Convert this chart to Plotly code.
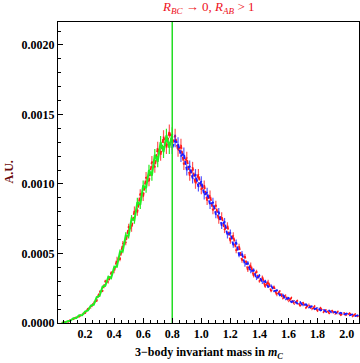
import numpy as np
import plotly.graph_objects as go

# bin centres (step 0.02) and histogram heights in units of 1e-4
x_red = np.round(np.arange(0.04, 2.081, 0.02), 2)
x_green = np.round(np.arange(0.04, 0.801, 0.02), 2)
x_blue = np.round(np.arange(0.80, 2.081, 0.02), 2)

y_red = [0.0, 0.08, 0.06, 0.22, 0.27, 0.45, 0.46, 0.66, 0.7, 1.02,
         1.08, 1.5, 1.6, 2.25, 2.3, 3.0, 2.95, 3.6, 3.7, 4.6,
         4.6, 5.7, 5.8, 6.9, 6.8, 8.1, 8.0, 9.3, 9.1, 10.5,
         10.2, 11.6, 11.2, 12.6, 12.1, 13.4, 12.6, 13.8, 12.9, 13.5,
         12.4, 12.8, 11.4, 11.9, 10.6, 11.2, 10.0, 10.7, 9.6, 9.9,
         8.8, 9.2, 8.1, 8.5, 7.4, 7.7, 6.7, 7.0, 5.9, 6.3,
         5.2, 5.5, 4.5, 4.8, 3.8, 4.2, 3.4, 3.7, 3.0, 3.3,
         2.6, 3.0, 2.3, 2.6, 2.0, 2.3, 1.75, 2.0, 1.55, 1.8,
         1.35, 1.6, 1.25, 1.45, 1.1, 1.35, 0.95, 1.2, 0.88, 1.08,
         0.78, 0.98, 0.7, 0.88, 0.62, 0.82, 0.57, 0.74, 0.52, 0.7,
         0.48, 0.64, 0.45]

y_green = [0.02, 0.03, 0.13, 0.17, 0.34, 0.36, 0.56, 0.55, 0.82, 0.9,
           1.25, 1.32, 1.85, 1.95, 2.6, 2.7, 3.3, 3.25, 4.0, 4.1,
           5.1, 5.2, 6.3, 6.3, 7.5, 7.4, 8.7, 8.5, 9.9, 9.7,
           11.0, 10.6, 12.1, 11.6, 13.0, 12.3, 13.5, 12.6, 13.6]

y_blue = [12.6, 13.1, 12.9, 12.0, 12.2, 11.0, 11.3, 10.4, 10.7, 9.8,
          10.2, 9.2, 9.4, 8.5, 8.7, 7.8, 8.0, 7.0, 7.3, 6.3,
          6.5, 5.6, 5.8, 4.9, 5.0, 4.2, 4.3, 3.7, 3.8, 3.2,
          3.4, 2.9, 3.0, 2.6, 2.7, 2.3, 2.35, 2.0, 2.05, 1.7,
          1.8, 1.5, 1.6, 1.4, 1.5, 1.25, 1.35, 1.12, 1.2, 1.0,
          1.1, 0.9, 0.98, 0.8, 0.9, 0.72, 0.8, 0.66, 0.74, 0.6,
          0.68, 0.55, 0.62, 0.5, 0.56]

cut_x = 0.8

y_tickvals = [0, 5, 10, 15, 20]
y_ticktext = ["0.0000", "0.0005", "0.0010", "0.0015", "0.0020"]
x_tickvals = [0.2, 0.4, 0.6, 0.8, 1.0, 1.2, 1.4, 1.6, 1.8, 2.0]
x_ticktext = ["0.2", "0.4", "0.6", "0.8", "1.0", "1.2", "1.4", "1.6", "1.8", "2.0"]

FONTE = "Liberation Serif"


def barra_erro(cor):
    # traços verticais curtos que dão o aspecto "ruidoso" das curvas
    return dict(type="percent", value=3.5, color=cor, thickness=1.2, width=0)


fig = go.Figure()

fig.add_trace(go.Scatter(
    x=x_red, y=y_red, mode="lines",
    line=dict(color="#ff1a1a", width=1.8, dash="4px,2px"),
    error_y=barra_erro("rgba(255,30,30,0.75)"),
    showlegend=False,
))
fig.add_trace(go.Scatter(
    x=x_blue, y=y_blue, mode="lines",
    line=dict(color="#1a1aff", width=1.8, dash="4px,2px"),
    error_y=barra_erro("rgba(30,30,255,0.75)"),
    showlegend=False,
))
fig.add_trace(go.Scatter(
    x=x_green, y=y_green, mode="lines",
    line=dict(color="#22ee22", width=2),
    error_y=barra_erro("#22ee22"),
    showlegend=False,
))

# linha de corte em m = 0.8
fig.add_trace(go.Scatter(
    x=[cut_x, cut_x], y=[0, 21.65], mode="lines",
    line=dict(color="#22dd22", width=1.5),
    showlegend=False,
))

fig.update_layout(
    width=360, height=363,
    margin=dict(l=58, r=1, t=22, b=40),
    plot_bgcolor="white", paper_bgcolor="white",
    font=dict(family=FONTE, size=12, color="black"),
    xaxis=dict(
        range=[0.014, 2.085], tickvals=x_tickvals, ticktext=x_ticktext,
        ticks="inside", ticklen=5, tickcolor="black",
        minor=dict(ticks="inside", ticklen=3, dtick=0.05, tick0=0, tickcolor="black"),
        showline=True, linecolor="black", linewidth=1, mirror=True,
        showgrid=False, zeroline=False,
        tickfont=dict(family=FONTE, size=12, color="black", weight="bold"),
    ),
    yaxis=dict(
        range=[0, 21.65], tickvals=y_tickvals, ticktext=y_ticktext,
        ticks="inside", ticklen=5, tickcolor="black",
        minor=dict(ticks="inside", ticklen=3, dtick=1, tick0=0, tickcolor="black"),
        showline=True, linecolor="black", linewidth=1, mirror=True,
        showgrid=False, zeroline=False,
        tickfont=dict(family=FONTE, size=12, color="black", weight="bold"),
    ),
)

fig.add_annotation(
    text="<i>R</i><sub><i>BC</i></sub> → 0, <i>R</i><sub><i>AB</i></sub> > 1",
    xref="paper", yref="paper", x=0.5, y=1, yshift=4,
    xanchor="center", yanchor="bottom", showarrow=False,
    font=dict(family=FONTE, size=13, color="#ee1122"),
)
fig.add_annotation(
    text="<b>3−body invariant mass in <i>m</i><sub><i>C</i></sub></b>",
    xref="paper", yref="paper", x=0.5, y=0, yshift=-20,
    xanchor="center", yanchor="top", showarrow=False,
    font=dict(family=FONTE, size=12, color="black"),
)
fig.add_annotation(
    text="<b>A.U.</b>", textangle=-90,
    xref="paper", yref="paper", x=0, xshift=-50, y=0.5,
    xanchor="center", yanchor="middle", showarrow=False,
    font=dict(family=FONTE, size=12, color="#6b0a0a"),
)

# sem margem do <body>, para a figura ocupar a janela inteira
fig.write_html(
    "out.html",
    config={"displayModeBar": False},
    post_script="document.body.style.margin='0px';",
)
